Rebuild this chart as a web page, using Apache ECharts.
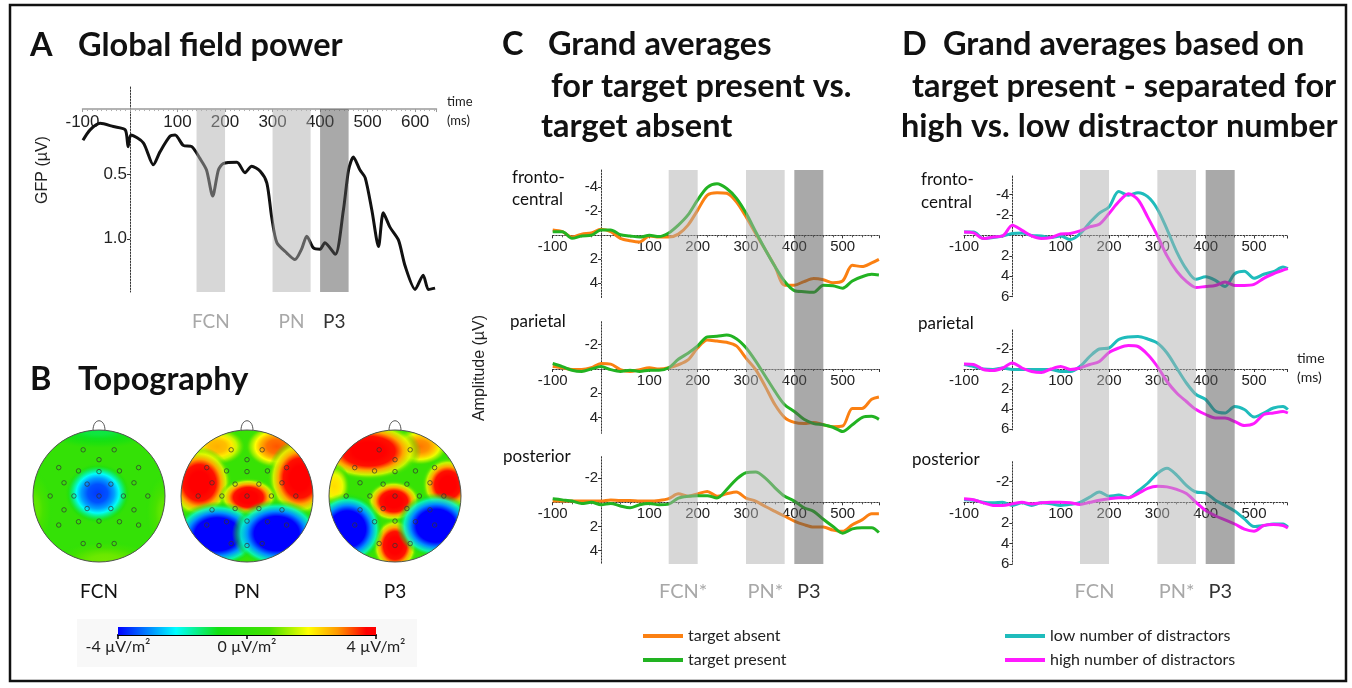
<!DOCTYPE html>
<html>
<head>
<meta charset="utf-8">
<title>GFP, topography and grand averages</title>
<script src="https://cdn.jsdelivr.net/npm/echarts@6.0.0/dist/echarts.min.js"></script>
<style>
html,body{margin:0;padding:0;background:#fff;}
#chart{width:1352px;height:688px;}
</style>
</head>
<body>
<div id="chart"></div>
<script>
// ================= DATA =================
// Panel A: global field power (µV), time in ms
const GFP_TIMES = [-99,-84,-63,-35,-10,-4,2,28,49,63,84,95,112,130,147,161,174,186,196,225,242,256,274,288,298,309,330,347,361,372,386,400,410,432,449,460,470,484,495,509,523,533,547,565,579,600,617,628,642];
const GFP_VALUES = [0.24,0.16,0.11,0.135,0.16,0.29,0.2,0.26,0.43,0.33,0.21,0.2,0.28,0.29,0.38,0.47,0.67,0.47,0.42,0.41,0.49,0.44,0.48,0.57,0.83,1.03,1.11,1.16,1.08,0.98,1.07,1.08,1.03,1.12,0.78,0.47,0.37,0.47,0.53,0.78,1.06,0.80,0.91,1.01,1.21,1.39,1.28,1.39,1.38];

// Panel C: grand averages, target present vs absent (µV)
const TIMES_C = [-100,-80,-60,-40,-20,0,20,40,60,80,100,120,140,160,180,200,220,240,260,280,300,320,340,360,380,400,420,440,460,480,500,520,540,560,575];
const C_FRONTO_ABSENT = [-0.45,-0.3,0.15,-0.1,-0.2,-0.5,-0.3,0.25,0.45,0.55,0.05,0.15,0.15,-0.1,-0.85,-2.1,-3.35,-3.55,-3.5,-2.8,-1.55,-0.15,1.2,2.6,4.15,4.15,3.85,3.6,3.7,3.95,3.8,2.5,2.6,2.3,2.0];
const C_FRONTO_PRESENT = [-0.3,-0.3,0.25,0.05,0,-0.45,-0.45,-0.05,0.05,0.15,0,0.1,-0.2,-0.85,-1.7,-2.95,-4.0,-4.3,-3.9,-3.1,-1.85,-0.3,1.2,2.6,3.85,4.6,4.7,4.75,4.15,4.2,4.4,3.8,3.45,3.25,3.3];
const C_PARIETAL_ABSENT = [-0.2,-0.1,0.05,0.05,-0.1,-0.45,-0.4,0.05,0.2,0.05,-0.1,0,-0.1,-0.35,-0.75,-1.75,-2.4,-2.3,-2.2,-1.9,-0.9,0.05,1.45,2.95,4.0,4.4,4.5,4.4,4.6,4.75,4.7,3.25,3.25,2.5,2.3];
const C_PARIETAL_PRESENT = [-0.45,-0.2,0.1,0.2,0,-0.2,0.05,0.2,0.1,0.2,0.1,0.1,-0.1,-0.8,-1.3,-1.9,-2.65,-2.7,-2.8,-2.5,-1.75,-0.65,0.6,1.85,2.95,3.5,4.15,4.5,4.6,4.8,5.15,4.6,4.0,3.9,4.15];
const C_POSTERIOR_ABSENT = [-0.1,-0.1,-0.1,-0.1,-0.1,-0.1,-0.2,-0.15,-0.15,-0.1,-0.1,-0.15,-0.3,-0.7,-0.5,-0.7,-0.9,-0.5,-0.7,-0.85,-0.35,-0.1,0.35,0.75,1.15,1.55,1.85,2.05,2.05,2.3,2.4,1.85,1.45,0.95,0.95];
const C_POSTERIOR_PRESENT = [-0.3,-0.2,-0.1,0.1,0,0.2,0.1,0.3,0.45,0.2,0.1,0.2,0.15,-0.35,-0.5,-0.55,-0.55,-0.35,-1.05,-1.9,-2.45,-2.5,-2.0,-1.2,-0.5,-0.1,0.45,0.75,1.4,2.0,2.55,2.2,2.1,2.1,2.5];

// Panel D: grand averages, low vs high number of distractors (µV)
const TIMES_D = [-100,-80,-60,-40,-20,0,20,40,60,80,100,120,140,160,180,200,220,240,260,280,300,320,340,360,380,400,420,440,460,480,500,520,540,560,570];
const D_FRONTO_LOW = [-0.35,-0.35,0.3,0.2,0.05,-0.2,-0.25,0,0.05,0.2,0.05,0.4,-0.15,-1.25,-2.2,-2.8,-4.3,-3.95,-4.2,-3.8,-2.6,-0.6,1.6,3.3,4.3,4.05,4.4,5.0,3.75,3.5,4.2,3.8,3.55,3.1,3.25];
const D_FRONTO_HIGH = [-0.35,-0.25,0.3,0.15,0.05,-1.0,-0.5,0.05,0.3,0.2,-0.15,-0.2,-0.45,-0.85,-1.1,-2.15,-3.3,-4.1,-3.5,-1.8,0.0,2.0,3.5,4.5,5.1,5.0,4.9,4.55,4.9,4.9,4.8,4.2,3.75,3.4,3.25];
const D_PARIETAL_LOW = [-0.45,-0.25,0,0.05,-0.1,0.05,0.05,0.05,0.05,0.05,0.25,0.25,-0.25,-1.25,-2.0,-2.1,-2.95,-3.2,-3.25,-3.0,-2.6,-1.6,-0.1,1.4,2.55,3.05,4.2,4.4,3.75,4.05,4.8,4.4,3.9,3.75,4.05];
const D_PARIETAL_HIGH = [-0.5,-0.45,0.05,0.15,-0.1,-0.6,-0.1,0.25,0.35,0,-0.25,0.05,-0.1,-0.45,-0.75,-1.65,-2.1,-2.35,-2.25,-1.45,-0.25,1.25,2.4,3.25,4.05,4.55,4.9,4.9,5.25,5.65,5.45,4.55,4.4,4.25,4.4];
const D_POSTERIOR_LOW = [-0.25,-0.2,0,0.05,0,0.3,0.05,0.3,0.05,0.15,0.3,0.2,0,-0.5,-1.0,-0.6,-0.7,-0.45,-1.1,-1.85,-2.8,-3.3,-2.65,-1.65,-1.0,-0.9,-0.2,0.3,0.85,1.6,2.35,2.25,2.1,2.1,2.4];
const D_POSTERIOR_HIGH = [-0.35,-0.25,0.05,0.3,0.3,0.15,0,0.15,0.05,0,0,0.05,0.2,0,-0.2,-0.35,-0.45,-0.45,-0.85,-1.35,-1.55,-1.5,-1.25,-0.85,0,0.8,1.3,1.7,2.1,2.6,2.8,2.25,2.15,2.25,2.5];

// Component windows (ms) and their labels
const BANDS = [[140,200],[300,380],[400,460]];
const BAND_LABELS_A = ['FCN','PN','P3'];
const BAND_LABELS_C = ['FCN*','PN*','P3'];
const BAND_LABELS_D = ['FCN','PN*','P3'];

// Tick labels
const X_TICKS_A = [-100,100,200,300,400,500,600];
const Y_TICKS_A = [0.5,1.0];
const X_TICKS_ERP = [-100,100,200,300,400,500];
const Y_TICKS_C = [[-4,-2,2,4],[-2,2,4],[-2,2,4]];
const Y_TICKS_D = [[-4,-2,2,4,6],[-2,2,4,6],[-2,2,4,6]];
const REGIONS = [['fronto-','central'],['parietal'],['posterior']];
const LEGEND_C = ['target absent','target present'];
const LEGEND_D = ['low number of distractors','high number of distractors'];

// Panel B: topography (head coords -1..1, y up). Blobs: [u, w, rx, ry, value µV/m²]
const TOPO_NAMES = ['FCN','PN','P3'];
const TOPO_BASE = [0.2,0.3,0.3];
const TOPO_FCN = [[0,1.02,0.9,0.3,-1.2],[0.1,-0.98,0.8,0.3,1.0],[-1.0,-0.2,0.3,0.6,0.9],[1.0,-0.25,0.3,0.6,0.9],[-0.02,0.04,0.5,0.46,-3.6]];
const TOPO_PN = [[-0.45,0.75,0.45,0.3,2.6],[0.45,0.75,0.5,0.35,3.2],[-0.72,0.2,0.5,0.55,4.5],[0.8,0.27,0.5,0.6,4.5],[0.02,-0.02,0.45,0.3,4.5],[-0.45,-0.58,0.68,0.5,-5],[0.45,-0.57,0.68,0.52,-5]];
const TOPO_P3 = [[0.38,0.75,0.45,0.3,3.0],[-0.4,0.68,0.8,0.45,4.5],[-0.92,0.15,0.25,0.35,2.2],[0.8,0.17,0.4,0.42,4.5],[-0.02,-0.08,0.42,0.32,4.5],[0,-0.75,0.35,0.42,4.5],[-0.72,-0.5,0.55,0.55,-5],[0.62,-0.45,0.6,0.5,-5]];
const ELECTRODES = [[-0.24,0.70],[0.23,0.70],[0,0.55],[-0.61,0.43],[-0.31,0.38],[0,0.37],[0.31,0.38],[0.60,0.43],[-0.53,0.20],[-0.18,0.18],[0.18,0.18],[0.53,0.20],[-0.74,0],[-0.38,0],[0,0],[0.37,0],[0.74,0],[-0.53,-0.21],[-0.18,-0.19],[0.18,-0.19],[0.53,-0.21],[-0.61,-0.44],[-0.31,-0.39],[0,-0.38],[0.31,-0.39],[0.60,-0.44],[-0.24,-0.72],[0,-0.75],[0.23,-0.72]];
const CBAR_TICKS = [-4,0,4];
const CMAP_VALUES = [-4,-2.2,-0.9,0.7,1.9,2.8,3.7];
const CMAP_COLORS = ['#0000ff','#00ffff','#12e012','#44e200','#ffff00','#ff9900','#ff0000'];

// ================= STYLE / LAYOUT =================
const FONT_TXT = 'Lato, "Open Sans", sans-serif';
const FONT_NUM = '"Liberation Sans", Arial, sans-serif';
const TITLE_FONT = 'bold 32.5px ' + FONT_TXT;
const COLOR_ABSENT = '#fb8012', COLOR_PRESENT = '#22b322', COLOR_LOW = '#1fbcbc', COLOR_HIGH = '#ff1aff';
const BAND_FILLS = ['rgba(176,176,176,0.5)','rgba(176,176,176,0.5)','rgba(84,84,84,0.5)'];
const BAND_TEXT = ['#a8a8a8','#a8a8a8','#333333'];

function hex2rgb(h){return [parseInt(h.substr(1,2),16),parseInt(h.substr(3,2),16),parseInt(h.substr(5,2),16)];}
function jet(v){
  const n = CMAP_VALUES.length;
  if (v <= CMAP_VALUES[0]) return hex2rgb(CMAP_COLORS[0]);
  if (v >= CMAP_VALUES[n-1]) return hex2rgb(CMAP_COLORS[n-1]);
  for (let i = 0; i < n-1; i++) {
    if (v <= CMAP_VALUES[i+1]) {
      const f = (v - CMAP_VALUES[i]) / (CMAP_VALUES[i+1] - CMAP_VALUES[i]);
      const a = hex2rgb(CMAP_COLORS[i]), b = hex2rgb(CMAP_COLORS[i+1]);
      return a.map((x,k) => Math.round(x + (b[k]-x)*f));
    }
  }
}
function rgba(c,a){return 'rgba('+c[0]+','+c[1]+','+c[2]+','+a+')';}
function blobGradient(v){
  const offs = [0,0.3,0.5,0.65,0.8,0.9,1];
  const fs = [1,0.95,0.8,0.6,0.38,0.2,0];
  const as = [1,1,1,1,0.85,0.5,0];
  return {type:'radial', x:0.5, y:0.5, r:0.5, colorStops: offs.map((o,k)=>({offset:o, color:rgba(jet(v*fs[k]), as[k])}))};
}

const grids = [], xAxis = [], yAxis = [], series = [];
function addGrid(rect, xa, ya){
  const gi = grids.length;
  grids.push(Object.assign({outerBoundsMode:'none'}, rect));
  xa.gridIndex = gi; ya.gridIndex = gi;
  xAxis.push(xa); yAxis.push(ya);
  return gi;
}
const hiddenAxis = (min,max) => ({type:'value', show:false, min:min, max:max});

function bandSeries(gi, labels, yTop, yBot, fs, off){
  return {
    type:'custom', xAxisIndex:gi, yAxisIndex:gi, z:5, silent:true,
    data: BANDS.map(b => [b[0], b[1]]),
    renderItem: function(params, api){
      const i = params.dataIndex;
      const p0 = api.coord([api.value(0), yTop]);
      const p1 = api.coord([api.value(1), yBot]);
      const top = Math.min(p0[1],p1[1]), bot = Math.max(p0[1],p1[1]);
      return {type:'group', children:[
        {type:'rect', shape:{x:p0[0], y:top, width:p1[0]-p0[0], height:bot-top}, style:{fill:BAND_FILLS[i]}},
        {type:'text', x:(p0[0]+p1[0])/2, y:bot+off, style:{text:labels[i], fill:BAND_TEXT[i], font:'normal '+fs+'px '+FONT_TXT, align:'center', verticalAlign:'middle'}}
      ]};
    }
  };
}

// axis offsets so that axes (line, ticks and labels) sit on the zero lines
function xOffsetToZero(height, yMin, yMax){ return -height * yMax / (yMax - yMin); }  // inverse y axis
function yOffsetToZero(width, xMin, xMax){ return -width * (0 - xMin) / (xMax - xMin); }

// ---------- Panel A ----------
const A_RECT = {left:82.5, top:87, width:354, height:205};
const A_X = [-100, 645], A_Y = [-0.17, 1.41];
const gA = addGrid(A_RECT,
  {type:'value', min:A_X[0], max:A_X[1], interval:100, position:'bottom', offset:xOffsetToZero(A_RECT.height, A_Y[0], A_Y[1]),
   axisLine:{onZero:false, lineStyle:{color:'#9a9a9a', width:1.5}},
   axisTick:{show:true, length:3, lineStyle:{color:'#9a9a9a'}},
   minorTick:{show:true, splitNumber:10, length:2, lineStyle:{color:'#b0b0b0'}},
   axisLabel:{customValues:X_TICKS_A, fontSize:17, fontFamily:FONT_NUM, color:'#222', margin:5},
   splitLine:{show:false}, minorSplitLine:{show:false}},
  {type:'value', inverse:true, min:A_Y[0], max:A_Y[1], position:'left', offset:yOffsetToZero(A_RECT.width, A_X[0], A_X[1]),
   axisLine:{onZero:false, lineStyle:{color:'#333', width:1, type:[1.5,1.5]}},
   axisTick:{show:true, customValues:Y_TICKS_A, length:3, lineStyle:{color:'#333'}},
   axisLabel:{customValues:Y_TICKS_A, formatter:v=>v.toFixed(1), fontSize:17, fontFamily:FONT_NUM, color:'#222', margin:3},
   splitLine:{show:false}});
series.push({type:'line', xAxisIndex:gA, yAxisIndex:gA, silent:true, z:2,
  data: GFP_TIMES.map((t,i)=>[t, GFP_VALUES[i]]), showSymbol:false, smooth:0.25,
  lineStyle:{width:3, color:'#111'}, itemStyle:{color:'#111'}});
series.push(bandSeries(gA, BAND_LABELS_A, 0, A_Y[1], 19, 30));

// ---------- Panels C and D ----------
function erpX(xMax, r){
  return {type:'value', min:-100, max:xMax, interval:100, position:'bottom', offset:xOffsetToZero(r.height, r.min, r.max),
    axisLine:{onZero:false, lineStyle:{color:'#333', width:1, type:[1.5,1.5]}},
    axisTick:{show:true, length:3, lineStyle:{color:'#333'}},
    minorTick:{show:true, splitNumber:5, length:2, lineStyle:{color:'#555'}},
    axisLabel:{customValues:X_TICKS_ERP, fontSize:15, fontFamily:FONT_NUM, color:'#222', margin:4},
    splitLine:{show:false}, minorSplitLine:{show:false}};
}
function erpY(r, ticks, width, xMax){
  return {type:'value', inverse:true, min:r.min, max:r.max, position:'left', offset:yOffsetToZero(width, -100, xMax),
    axisLine:{onZero:false, lineStyle:{color:'#333', width:1, type:[1.5,1.5]}},
    axisTick:{show:true, customValues:ticks, length:3, lineStyle:{color:'#333'}},
    axisLabel:{customValues:ticks, fontSize:15, fontFamily:FONT_NUM, color:'#222', margin:3},
    splitLine:{show:false}};
}
function erpPanel(xLeft, width, xMax, rows, yTicks, times, sets, bandLabels){
  rows.forEach((r,k)=>{
    const gi = addGrid({left:xLeft, top:r.top, width:width, height:r.height}, erpX(xMax, r), erpY(r, yTicks[k], width, xMax));
    sets[k].forEach(s => series.push({type:'line', name:s.name, xAxisIndex:gi, yAxisIndex:gi, silent:true, z:2,
      data: times.map((t,i)=>[t, s.values[i]]), showSymbol:false, smooth:0.3,
      lineStyle:{width:3, color:s.color}, itemStyle:{color:s.color}}));
  });
  const gb = addGrid({left:xLeft, top:170, width:width, height:394}, hiddenAxis(-100,xMax), hiddenAxis(0,1));
  series.push(bandSeries(gb, bandLabels, 1, 0, 20, 28));
}
erpPanel(552.7, 326.2, 575,
  [{top:170, height:128, min:-5.44, max:5.22},{top:321.7, height:111.6, min:-3.9, max:5.3},{top:456.7, height:107.3, min:-3.77, max:5.1}],
  Y_TICKS_C, TIMES_C,
  [[{name:LEGEND_C[0], color:COLOR_ABSENT, values:C_FRONTO_ABSENT},{name:LEGEND_C[1], color:COLOR_PRESENT, values:C_FRONTO_PRESENT}],
   [{name:LEGEND_C[0], color:COLOR_ABSENT, values:C_PARIETAL_ABSENT},{name:LEGEND_C[1], color:COLOR_PRESENT, values:C_PARIETAL_PRESENT}],
   [{name:LEGEND_C[0], color:COLOR_ABSENT, values:C_POSTERIOR_ABSENT},{name:LEGEND_C[1], color:COLOR_PRESENT, values:C_POSTERIOR_PRESENT}]],
  BAND_LABELS_C);
erpPanel(964, 322.9, 568,
  [{top:176, height:120.7, min:-5.83, max:6.0},{top:330, height:100, min:-3.9, max:6.1},{top:461.7, height:102.5, min:-3.94, max:6.0}],
  Y_TICKS_D, TIMES_D,
  [[{name:LEGEND_D[0], color:COLOR_LOW, values:D_FRONTO_LOW},{name:LEGEND_D[1], color:COLOR_HIGH, values:D_FRONTO_HIGH}],
   [{name:LEGEND_D[0], color:COLOR_LOW, values:D_PARIETAL_LOW},{name:LEGEND_D[1], color:COLOR_HIGH, values:D_PARIETAL_HIGH}],
   [{name:LEGEND_D[0], color:COLOR_LOW, values:D_POSTERIOR_LOW},{name:LEGEND_D[1], color:COLOR_HIGH, values:D_POSTERIOR_HIGH}]],
  BAND_LABELS_D);

// ---------- Panel B: topography ----------
const TOPO_BLOBS = [TOPO_FCN, TOPO_PN, TOPO_P3];
const TOPO_CX = [99,247,395];
function blobRender(params, api){
  const c = api.coord([api.value(0), api.value(1)]);
  const s = api.size([api.value(2), api.value(3)]);
  const o = api.coord([0,0]);
  const R = api.size([1,1])[0];
  return {type:'group', clipPath:{type:'circle', shape:{cx:o[0], cy:o[1], r:R}}, children:[
    {type:'circle', shape:{cx:0, cy:0, r:100}, x:c[0], y:c[1], scaleX:s[0]/100, scaleY:s[1]/100, style:{fill:blobGradient(api.value(4))}}
  ]};
}
TOPO_NAMES.forEach((name, m) => {
  const gi = addGrid({left:TOPO_CX[m]-66, top:430, width:132, height:132}, hiddenAxis(-1,1), hiddenAxis(-1,1));
  series.push({type:'custom', xAxisIndex:gi, yAxisIndex:gi, z:1, silent:true, data:[[0,0,TOPO_BASE[m]]],
    renderItem:(p,api)=>{const c=api.coord([0,0]); const R=api.size([1,1])[0];
      return {type:'circle', shape:{cx:c[0], cy:c[1], r:R}, style:{fill:rgba(jet(api.value(2)),1)}};}});
  series.push({type:'custom', xAxisIndex:gi, yAxisIndex:gi, z:2, silent:true, data:TOPO_BLOBS[m], renderItem:blobRender});
  series.push({type:'scatter', xAxisIndex:gi, yAxisIndex:gi, z:3, silent:true, data:ELECTRODES, symbol:'circle', symbolSize:4.5,
    itemStyle:{color:'rgba(0,0,0,0)', borderColor:'#333', borderWidth:0.9}});
  series.push({type:'custom', xAxisIndex:gi, yAxisIndex:gi, z:4, silent:true, data:[[0,0]],
    renderItem:(p,api)=>{const c=api.coord([0,0]); const R=api.size([1,1])[0]; const top=c[1]-R;
      return {type:'group', children:[
        {type:'circle', shape:{cx:c[0], cy:c[1], r:R}, style:{fill:'none', stroke:'#555', lineWidth:1}},
        {type:'bezierCurve', shape:{x1:c[0]-6, y1:top+0.5, x2:c[0]+6, y2:top+0.5, cpx1:c[0]-6, cpy1:top-12.5, cpx2:c[0]+6, cpy2:top-12.5}, style:{fill:'none', stroke:'#555', lineWidth:1}},
        {type:'text', x:c[0], y:c[1]+96, style:{text:name, font:'normal 19px '+FONT_TXT, fill:'#111', align:'center', verticalAlign:'middle'}}
      ]};}});
});

// colour bar
const gCB = addGrid({left:118, top:627, width:258, height:8},
  {type:'value', min:-4, max:4, position:'bottom',
   axisLine:{onZero:false, lineStyle:{color:'#000', width:2}},
   axisTick:{show:true, customValues:CBAR_TICKS, length:4, lineStyle:{color:'#000', width:1.5}},
   axisLabel:{customValues:CBAR_TICKS, formatter:v=>v+' µV/m²', fontSize:16, fontFamily:FONT_TXT, color:'#222', margin:4},
   splitLine:{show:false}},
  hiddenAxis(0,1));
series.push({type:'custom', xAxisIndex:gCB, yAxisIndex:gCB, z:2, silent:true, data:[[-4,4]],
  renderItem:(p,api)=>{const a=api.coord([api.value(0),1]), b=api.coord([api.value(1),0]);
    return {type:'rect', shape:{x:a[0], y:a[1], width:b[0]-a[0], height:b[1]-a[1]},
      style:{fill:{type:'linear', x:0, y:0, x2:1, y2:0, colorStops:CMAP_VALUES.map((v,i)=>({offset:(v+4)/8, color:CMAP_COLORS[i]}))}}};}});

// ---------- text ----------
const T = (text, x, y, font, fill, extra) => Object.assign({type:'text', x:x, y:y, silent:true,
  style:{text:text, font:font, fill:fill||'#111', align:'left', verticalAlign:'middle'}}, extra||{});
const LABEL_FONT = 'normal 17px ' + FONT_TXT;
const SMALL_FONT = 'normal 13px ' + FONT_TXT;
const graphic = [
  {type:'rect', z:-10, silent:true, shape:{x:77, y:619, width:340, height:48}, style:{fill:'#f8f8f8'}},
  {type:'rect', z:100, silent:true, shape:{x:10, y:5, width:1336, height:676}, style:{fill:'none', stroke:'#111', lineWidth:2.5}},
  T('A', 30, 46, TITLE_FONT), T('Global field power', 78, 46, TITLE_FONT),
  T('B', 30, 380, TITLE_FONT), T('Topography', 78, 380, TITLE_FONT),
  T('C', 502, 45, TITLE_FONT), T('Grand averages', 548, 45, TITLE_FONT),
  T('for target present vs.', 551, 87, TITLE_FONT), T('target absent', 541, 127, TITLE_FONT),
  T('D', 902, 45, TITLE_FONT), T('Grand averages based on', 943, 45, TITLE_FONT),
  T('target present - separated for', 912, 87, TITLE_FONT), T('high vs. low distractor number', 901, 127, TITLE_FONT),
  T('time', 447, 102, SMALL_FONT, '#222'), T('(ms)', 447, 121, SMALL_FONT, '#222'),
  T('time', 1297, 358, 'normal 14px '+FONT_TXT, '#222'), T('(ms)', 1297, 377, 'normal 14px '+FONT_TXT, '#222'),
  Object.assign(T('GFP (µV)', 43, 170, 'normal 16px '+FONT_NUM, '#222'), {rotation:Math.PI/2}),
  Object.assign(T('Amplitude (µV)', 480, 368, 'normal 16px '+FONT_NUM, '#222'), {rotation:Math.PI/2})
];
graphic[graphic.length-2].style.align = 'center';
graphic[graphic.length-1].style.align = 'center';
const REGION_POS_C = [[512,178],[510,322],[503,457]];
const REGION_POS_D = [[921,180],[918,324],[912,460]];
REGIONS.forEach((lines,k)=>{
  lines.forEach((ln,j)=>{
    graphic.push(T(ln, REGION_POS_C[k][0], REGION_POS_C[k][1]+22*j, LABEL_FONT));
    graphic.push(T(ln, REGION_POS_D[k][0], REGION_POS_D[k][1]+23*j, LABEL_FONT));
  });
});

const legendBase = {orient:'vertical', itemWidth:40, itemHeight:4, itemGap:8, icon:'rect', selectedMode:false, padding:0,
  textStyle:{fontSize:16, fontFamily:FONT_TXT, color:'#222'}};

const chart = echarts.init(document.getElementById('chart'), null, {renderer:'canvas'});
chart.setOption({
  backgroundColor:'#ffffff',
  animation:false,
  grid:grids, xAxis:xAxis, yAxis:yAxis, series:series,
  legend:[Object.assign({left:643, top:628, data:LEGEND_C}, legendBase), Object.assign({left:1005, top:628, data:LEGEND_D}, legendBase)],
  graphic:graphic
});
</script>
</body>
</html>
